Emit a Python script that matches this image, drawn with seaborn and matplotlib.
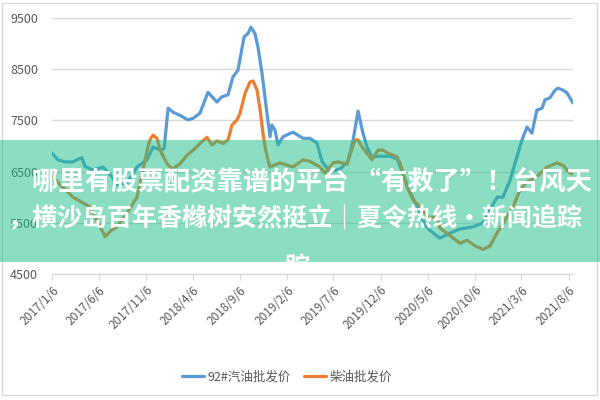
import numpy as np
import matplotlib
matplotlib.use('Agg')
import matplotlib.pyplot as plt
from matplotlib.patches import Rectangle
import pandas as pd
import seaborn as sns

# 92# gasoline wholesale price
gas_dates = ['2017-01-06', '2017-01-25', '2017-02-17', '2017-03-15', '2017-03-31', '2017-04-13',
             '2017-04-23', '2017-05-19', '2017-06-20', '2017-07-19', '2017-08-04', '2017-09-06',
             '2017-10-08', '2017-11-10', '2017-11-29', '2017-12-22', '2018-01-04', '2018-01-17',
             '2018-02-02', '2018-02-24', '2018-03-22', '2018-04-08', '2018-04-30', '2018-05-26',
             '2018-06-24', '2018-07-10', '2018-07-30', '2018-08-15', '2018-08-31', '2018-09-20',
             '2018-10-03', '2018-10-12', '2018-10-25', '2018-11-04', '2018-11-17', '2018-12-03',
             '2018-12-13', '2018-12-19', '2018-12-29', '2019-01-08', '2019-01-24', '2019-02-25',
             '2019-03-30', '2019-04-21', '2019-05-14', '2019-05-30', '2019-06-25', '2019-07-28',
             '2019-08-22', '2019-09-08', '2019-09-24', '2019-10-10', '2019-10-23', '2019-11-08',
             '2019-12-04', '2020-01-05', '2020-01-28', '2020-02-17', '2020-03-10', '2020-04-12',
             '2020-04-28', '2020-05-14', '2020-06-15', '2020-07-18', '2020-08-19', '2020-09-30',
             '2020-11-02', '2020-11-24', '2020-12-17', '2021-01-05', '2021-01-28', '2021-02-20',
             '2021-03-08', '2021-03-24', '2021-04-09', '2021-04-25', '2021-05-12', '2021-05-21',
             '2021-06-06', '2021-06-23', '2021-07-02', '2021-07-19', '2021-08-01', '2021-08-20']
gas_price = [6860, 6730, 6690, 6690, 6740, 6770,
             6600, 6530, 6590, 6400, 6240, 6280,
             6590, 6730, 6980, 6920, 6950, 7740,
             7660, 7600, 7510, 7540, 7640, 8050,
             7860, 7960, 8000, 8350, 8480, 9130,
             9200, 9320, 9200, 8930, 8420, 7640,
             7180, 7410, 7310, 7020, 7180, 7270,
             7150, 7150, 7060, 6700, 6500, 6550,
             6700, 7120, 7680, 7250, 6980, 6790,
             6800, 6800, 6750, 6450, 6100, 5700,
             5450, 5350, 5200, 5300, 5380, 5420,
             5500, 5750, 6000, 6000, 6330, 6800,
             7120, 7370, 7250, 7700, 7740, 7900,
             7940, 8090, 8130, 8090, 8035, 7840]

# diesel wholesale price
diesel_dates = ['2017-01-06', '2017-02-01', '2017-03-15', '2017-05-09', '2017-06-04', '2017-06-27',
                '2017-07-16', '2017-08-04', '2017-09-06', '2017-10-08', '2017-10-28', '2017-11-10',
                '2017-11-19', '2017-11-29', '2017-12-12', '2017-12-22', '2018-01-13', '2018-01-30',
                '2018-02-24', '2018-03-19', '2018-04-14', '2018-04-30', '2018-05-23', '2018-06-08',
                '2018-06-24', '2018-07-14', '2018-07-30', '2018-08-12', '2018-08-28', '2018-09-07',
                '2018-09-23', '2018-10-09', '2018-10-19', '2018-11-01', '2018-11-11', '2018-11-20',
                '2018-11-27', '2018-12-06', '2018-12-13', '2019-01-14', '2019-02-25', '2019-03-30',
                '2019-04-21', '2019-05-24', '2019-06-09', '2019-07-05', '2019-07-21', '2019-08-19',
                '2019-09-14', '2019-09-24', '2019-10-07', '2019-10-23', '2019-11-08', '2019-11-28',
                '2019-12-14', '2019-12-30', '2020-01-28', '2020-02-07', '2020-03-01', '2020-03-20',
                '2020-04-12', '2020-05-08', '2020-06-06', '2020-06-15', '2020-07-18', '2020-08-19',
                '2020-09-11', '2020-10-07', '2020-11-02', '2020-11-24', '2020-12-17', '2021-01-18',
                '2021-02-07', '2021-03-01', '2021-03-24', '2021-04-25', '2021-05-28', '2021-06-29',
                '2021-07-19', '2021-08-10', '2021-08-20']
diesel_price = [6400, 6250, 6000, 5810, 5500, 5230,
                5350, 5420, 5690, 6000, 6530, 6920,
                7120, 7210, 7150, 6920, 6660, 6550,
                6650, 6820, 6950, 7050, 7170, 7020,
                7100, 7050, 7120, 7410, 7510, 7640,
                8030, 8250, 8270, 8090, 7700, 7250,
                6980, 6730, 6590, 6670, 6590, 6730,
                6700, 6590, 6470, 6670, 6690, 6640,
                7120, 7120, 6980, 6860, 6730, 6920,
                6920, 6860, 6790, 6670, 6200, 5950,
                5810, 5610, 5610, 5400, 5250, 5100,
                5160, 5050, 4980, 5050, 5300, 5610,
                5810, 6140, 6300, 6400, 6590, 6670,
                6620, 6470, 6450]

series_names = ['92#汽油批发价', '柴油批发价']
tick_dates = ['2017-01-06', '2017-06-06', '2017-11-06', '2018-04-06', '2018-09-06', '2019-02-06',
              '2019-07-06', '2019-12-06', '2020-05-06', '2020-10-06', '2021-03-06', '2021-08-06']
tick_labels = ['2017/1/6', '2017/6/6', '2017/11/6', '2018/4/6', '2018/9/6', '2019/2/6',
               '2019/7/6', '2019/12/6', '2020/5/6', '2020/10/6', '2021/3/6', '2021/8/6']
y_ticks = [4500, 5500, 6500, 7500, 8500, 9500]

banner_line1 = '哪里有股票配资靠谱的平台 “有救了”！台风天'
banner_line2 = '，横沙岛百年香橼树安然挺立｜夏令热线·新闻追踪'
banner_line3 = '踪'

df = pd.concat([
    pd.DataFrame({'date': pd.to_datetime(gas_dates), 'price': gas_price, 'series': series_names[0]}),
    pd.DataFrame({'date': pd.to_datetime(diesel_dates), 'price': diesel_price, 'series': series_names[1]}),
])

sns.set_style('white')
plt.rcParams['font.family'] = ['Noto Sans CJK SC', 'DejaVu Sans']

colors = ['#5B9BD5', '#ED7D31']

fig = plt.figure(figsize=(6, 4), dpi=100)
ax = fig.add_axes([52 / 600, 1 - 274 / 400, (573 - 52) / 600, (274 - 18) / 400])

sns.lineplot(data=df, x='date', y='price', hue='series', hue_order=series_names,
             palette=colors, linewidth=2.3, ax=ax, legend=False)

ax.set_xlim(pd.Timestamp('2017-01-06'), pd.Timestamp('2021-08-20'))
ax.set_ylim(4500, 9500)
ax.set_yticks(y_ticks)
ax.set_yticklabels([str(v) for v in y_ticks], fontsize=9, color='#595959')
ax.set_xticks(pd.to_datetime(tick_dates))
ax.set_xticklabels(tick_labels, rotation=45, ha='right', rotation_mode='anchor',
                   fontsize=8.5, color='#595959')
ax.set_xlabel('')
ax.set_ylabel('')
ax.grid(axis='y', color='#d9d9d9', linewidth=1)
ax.grid(axis='x', visible=False)
for s in ['top', 'right', 'left']:
    ax.spines[s].set_visible(False)
ax.spines['bottom'].set_color('#d9d9d9')
ax.tick_params(axis='x', length=4, color='#d9d9d9', pad=3, bottom=True)
ax.tick_params(axis='y', length=0, pad=10)

# legend
handles = [plt.Line2D([], [], color=c, linewidth=2.3) for c in colors]
fig.legend(handles, series_names, loc='center', bbox_to_anchor=(287 / 600, 1 - 377 / 400), ncol=2,
           frameon=False, fontsize=9, handlelength=1.8, columnspacing=1.0, handletextpad=0.3,
           labelcolor='#595959')

# outer border
fig.patches.append(Rectangle((2 / 600, 5 / 400), 595 / 600, 392 / 400, transform=fig.transFigure,
                             fill=False, edgecolor='#d9d9d9', linewidth=1))

# green overlay banner
banner = Rectangle((0, 1 - 262 / 400), 1, 122 / 400, transform=fig.transFigure,
                   facecolor='#1ABE88', alpha=0.5, edgecolor='none', zorder=5)
fig.patches.append(banner)
fig.text(32 / 600, 1 - 183 / 400, banner_line1, color='white', fontsize=19, fontweight='bold',
         ha='left', va='center', zorder=6)
fig.text(8 / 600, 1 - 218 / 400, banner_line2, color='white', fontsize=18, fontweight='bold',
         ha='left', va='center', zorder=6)
t3 = fig.text(297 / 600, 1 - 268 / 400, banner_line3, color='white', fontsize=18, fontweight='bold',
              ha='center', va='center', zorder=6)
t3.set_clip_path(banner)

fig.savefig('out.png', dpi=100)
